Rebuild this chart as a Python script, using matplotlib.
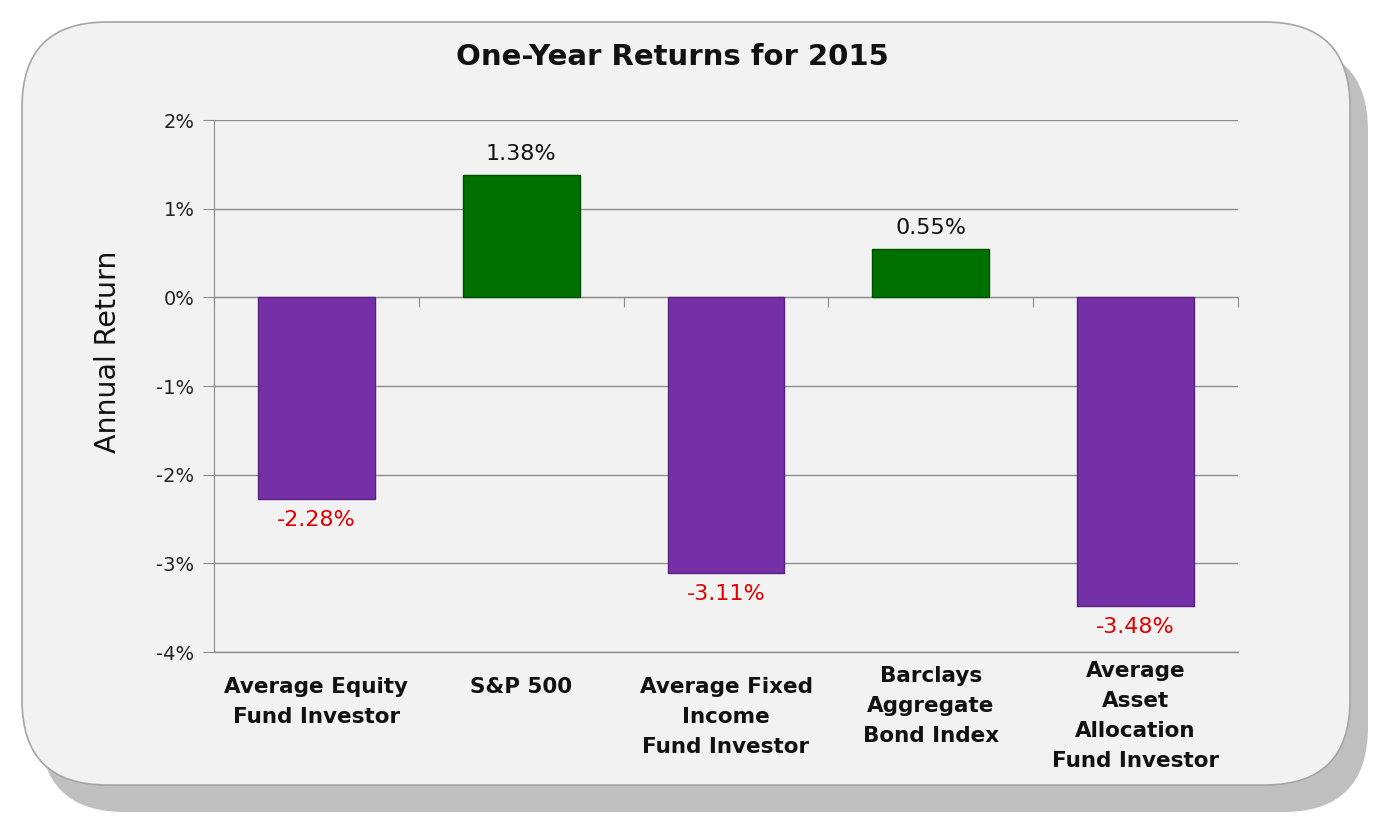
import matplotlib.pyplot as plt
from matplotlib.patches import FancyBboxPatch
import matplotlib.transforms as mtransforms

# Datos
categories = ["Average Equity\nFund Investor", "S&P 500",
              "Average Fixed\nIncome\nFund Investor",
              "Barclays\nAggregate\nBond Index",
              "Average\nAsset\nAllocation\nFund Investor"]
returns = [-2.28, 1.38, -3.11, 0.55, -3.48]
yticks = [2, 1, 0, -1, -2, -3, -4]

W, H = 1394, 826
fig = plt.figure(figsize=(W / 100, H / 100), dpi=100)
fig.patch.set_facecolor("white")

# Fondo con esquinas redondeadas y sombra
bg = fig.add_axes([0, 0, 1, 1])
bg.set_xlim(0, W)
bg.set_ylim(H, 0)
bg.axis("off")
shadow = FancyBboxPatch((40, 46), 1328, 766, boxstyle="round,pad=0,rounding_size=85",
                        facecolor="#BFBFBF", edgecolor="none")
box = FancyBboxPatch((22, 22), 1328, 763, boxstyle="round,pad=0,rounding_size=85",
                     facecolor="#F2F2F2", edgecolor="#A6A6A6", linewidth=1.2)
bg.add_patch(shadow)
bg.add_patch(box)

# Ejes del gráfico
ax = fig.add_axes([214 / W, 1 - 652 / H, (1238 - 214) / W, (652 - 120) / H])
ax.set_facecolor("none")
x = range(len(categories))
colors = ["#7530A8" if v < 0 else "#007000" for v in returns]
edges = ["#5A2080" if v < 0 else "#004F00" for v in returns]
bars = ax.bar(x, returns, width=0.57, color=colors, edgecolor=edges, linewidth=1, zorder=3)

ax.set_xlim(-0.5, len(categories) - 0.5)
ax.set_ylim(-4, 2)
ax.set_yticks(yticks)
ax.set_yticklabels([f"{t}%" for t in yticks], fontsize=14, color="#222222")
ax.yaxis.grid(True, color="#8C8C8C", linewidth=1, zorder=0)
ax.axhline(-4, color="#8C8C8C", linewidth=1, zorder=0, clip_on=False)
ax.tick_params(axis="y", length=8, color="#8C8C8C", pad=6)

for s in ["top", "right"]:
    ax.spines[s].set_visible(False)
ax.spines["left"].set_color("#8C8C8C")
ax.spines["bottom"].set_position(("data", 0))
ax.spines["bottom"].set_color("#8C8C8C")
ax.set_xticks([i + 0.5 for i in range(len(categories) - 1)] + [-0.5, len(categories) - 0.5])
ax.set_xticklabels([])
ax.tick_params(axis="x", length=7, color="#8C8C8C", direction="out")

# Etiquetas de valores
for b, v in zip(bars, returns):
    cx = b.get_x() + b.get_width() / 2
    if v >= 0:
        ax.text(cx, v + 0.12, f"{v:.2f}%", ha="center", va="bottom", fontsize=16, color="#111111")
    else:
        ax.text(cx, v - 0.12, f"{v:.2f}%", ha="center", va="top", fontsize=16, color="#E00000")

# Etiquetas de categorías (posición vertical del primer renglón en píxeles)
label_top = [677, 677, 677, 666, 661]
trans = mtransforms.blended_transform_factory(ax.transData, fig.transFigure)
for i, c in enumerate(categories):
    ax.text(i, 1 - label_top[i] / H, c, transform=trans, ha="center", va="top", fontsize=15.5,
            fontweight="bold", linespacing=1.62, color="#111111")

ax.set_ylabel("Annual Return", fontsize=20.5, color="#111111")
ax.yaxis.set_label_coords(-0.09, 0.564)
fig.text(672 / W, 1 - 57 / H, "One-Year Returns for 2015", ha="center", va="center",
         fontsize=21, fontweight="bold", color="#111111")

plt.savefig("out.png", dpi=100)
